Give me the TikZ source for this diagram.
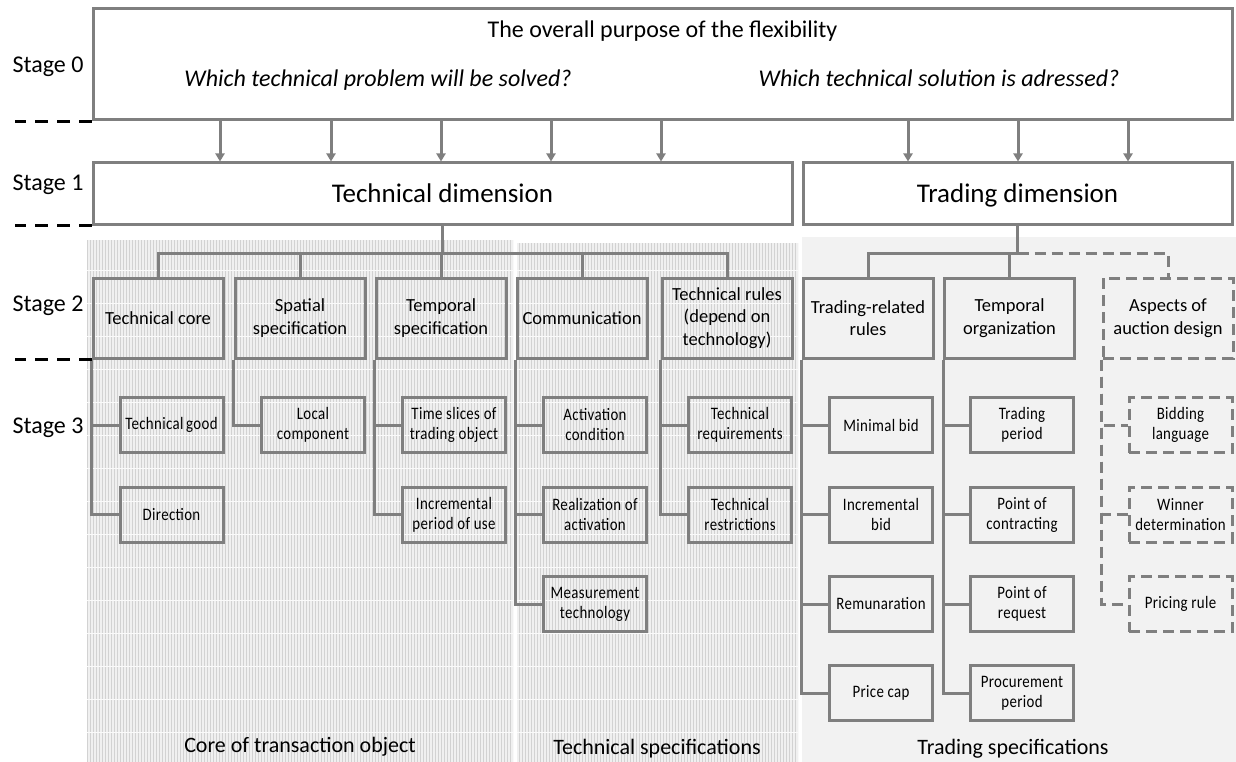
\documentclass[tikz,border=0pt]{standalone}
\usepackage{fontspec}
\setmainfont{Carlito}
\newfontfamily\itemfont[FakeStretch=0.85, LetterSpace=2]{Carlito}
\usepackage{tikz}
\usetikzlibrary{arrows.meta}
\usetikzlibrary{patterns}

\definecolor{boxgray}{HTML}{7F7F7F}
\definecolor{techfill}{HTML}{F0F0F0}
\definecolor{tradefill}{HTML}{F2F2F2}

\tikzset{
    box/.style={draw=boxgray, line width=3pt, align=center, inner sep=1pt},
    dimbox/.style={box, minimum height=61pt, text height=20pt, text depth=3pt,
        font=\fontsize{27}{32}\selectfont},
    catbox/.style={box, minimum width=130pt, minimum height=80pt, font=\fontsize{18.5}{22.5}\selectfont},
    itembox/.style={box, minimum width=103pt, minimum height=55pt, font=\itemfont\fontsize{17.5}{20}\selectfont},
    dashbox/.style={dash pattern=on 11pt off 6pt},
    conn/.style={draw=boxgray, line width=3pt},
    arr/.style={conn, -{Triangle[width=9pt,length=8pt]}},
    stagesep/.style={black, line width=3.5pt, dash pattern=on 13pt off 9pt},
    stagelbl/.style={anchor=base, font=\fontsize{24}{28}\selectfont},
    toptxt/.style={anchor=base, font=\fontsize{24}{28}\selectfont},
    panellbl/.style={anchor=base, font=\fontsize{22}{26}\selectfont}}

\begin{document}
\begin{tikzpicture}[x=1pt, y=-1pt]
        \useasboundingbox (0,0) rectangle (1236,762);

        % panels behind the tree
        \fill[techfill] (87,240) rectangle (513,762);
        \fill[techfill] (517,243) rectangle (798,762);
        \fill[pattern=vertical lines, pattern color=gray!35] (87,240) rectangle (513,762);
        \fill[pattern=vertical lines, pattern color=gray!35] (517,243) rectangle (798,762);
        \foreach \y in {270,303,...,760} {
            \draw[white!70!techfill, line width=1pt] (87,\y) -- (513,\y);
            \draw[white!70!techfill, line width=1pt] (517,\y) -- (798,\y);
        }
        \fill[tradefill] (802,237) rectangle (1236,762);

        \node[panellbl] (corelbl) at (300,752) {Core of transaction object};
        \node[panellbl] (speclbl) at (657,754) {Technical specifications};
        \node[panellbl] (tradelbl) at (1013,754) {Trading specifications};

        % stage 0
        \node[box, minimum width=1139pt, minimum height=111pt] (purpose) at (662.5,64.5) {};
        \node[toptxt] (purposetxt) at (662.5,38) {The overall purpose of the flexibility};
        \node[toptxt, font=\fontsize{24}{28}\selectfont\itshape] (problem) at (378,87) {Which technical problem will be solved?};
        \node[toptxt, font=\fontsize{24}{28}\selectfont\itshape] (solution) at (939,87) {Which technical solution is adressed?};

        % stage 1
        \node[dimbox, minimum width=699pt] (techdim) at (442.5,193.5) {Technical dimension};
        \node[dimbox, minimum width=429pt] (tradedim) at (1017.5,193.5) {Trading dimension};

        \foreach \x in {220,331,441,551,661}
            \draw[arr] (\x,0 |- purpose.south) -- (\x,0 |- techdim.north);
        \foreach \x in {908,1018,1128}
            \draw[arr] (\x,0 |- purpose.south) -- (\x,0 |- tradedim.north);

        % stage 2
        \node[catbox] (tcore) at (158,318) {Technical core};
        \node[catbox] (spatial) at (300,318) {Spatial\\specification};
        \node[catbox] (temporal) at (441,318) {Temporal\\specification};
        \node[catbox] (comm) at (582,318) {Communication};
        \node[catbox] (trules) at (727,318) {Technical rules\\(depend on\\technology)};
        \node[catbox] (trel) at (868,318) {Trading-related\\rules};
        \node[catbox] (torg) at (1009.5,318) {Temporal\\organization};
        \node[catbox, dashbox] (auction) at (1168,318) {Aspects of\\auction design};

        \draw[conn] (techdim.south) -- ++(0,28) coordinate (tjoin);
        \foreach \n in {tcore,spatial,temporal,comm,trules}
            \draw[conn] (tjoin) -| (\n.north);
        \draw[conn] (tradedim.south) -- ++(0,28) coordinate (rjoin);
        \draw[conn] (rjoin) -| (trel.north);
        \draw[conn] (rjoin) -| (torg.north);
        \draw[conn, dashbox] (rjoin) -| (auction.north);

        % stage 3
        \node[itembox] (tgood) at (171.5,425) {Technical\hspace{-1pt} good};
        \node[itembox] (direction) at (171.5,514.5) {Direction};
        \node[itembox] (local) at (313,425) {Local\\component};
        \node[itembox] (slices) at (454,425) {Time slices of\\trading object};
        \node[itembox] (incperiod) at (454,514.5) {Incremental\\period of use};
        \node[itembox] (activation) at (595,425) {Activation\\condition};
        \node[itembox] (realization) at (595,514.5) {Realization of\\activation};
        \node[itembox] (measure) at (595,604) {Measurement\\technology};
        \node[itembox] (treq) at (740,425) {Technical\\requirements};
        \node[itembox] (trestr) at (740,514.5) {Technical\\restrictions};
        \node[itembox] (minbid) at (881,425) {Minimal bid};
        \node[itembox] (incbid) at (881,514.5) {Incremental\\bid};
        \node[itembox] (remun) at (881,604) {Remunaration};
        \node[itembox] (pricecap) at (881,693) {Price cap};
        \node[itembox] (tperiod) at (1022,425) {Trading\\period};
        \node[itembox] (pcontract) at (1022,514.5) {Point of\\contracting};
        \node[itembox] (prequest) at (1022,604) {Point of\\request};
        \node[itembox] (procure) at (1022,693) {Procurement\\period};
        \node[itembox, dashbox] (bidlang) at (1180.5,425) {Bidding\\language};
        \node[itembox, dashbox] (winner) at (1180.5,514.5) {Winner\\determination};
        \node[itembox, dashbox] (pricing) at (1180.5,604) {Pricing rule};

        \foreach \p/\c in {tcore/tgood, tcore/direction, spatial/local, temporal/slices,
                temporal/incperiod, comm/activation, comm/realization, comm/measure,
                trules/treq, trules/trestr, trel/minbid, trel/incbid, trel/remun,
                trel/pricecap, torg/tperiod, torg/pcontract, torg/prequest, torg/procure}
            \draw[conn] (\p.south west) |- (\c.west);
        \foreach \c in {bidlang,winner,pricing}
            \draw[conn, dashbox] (auction.south west) |- (\c.west);

        % stage labels and separators
        \node[stagelbl] (stage0) at (48,73) {Stage 0};
        \node[stagelbl] (stage1) at (48,190) {Stage 1};
        \node[stagelbl] (stage2) at (48,311) {Stage 2};
        \node[stagelbl] (stage3) at (48,433) {Stage 3};
        \draw[stagesep] (purpose.south west) -- (15,0 |- purpose.south west);
        \draw[stagesep] (techdim.south west) -- (15,0 |- techdim.south west);
        \draw[stagesep] (tcore.south west) -- (15,0 |- tcore.south west);

    \end{tikzpicture}
\end{document}
